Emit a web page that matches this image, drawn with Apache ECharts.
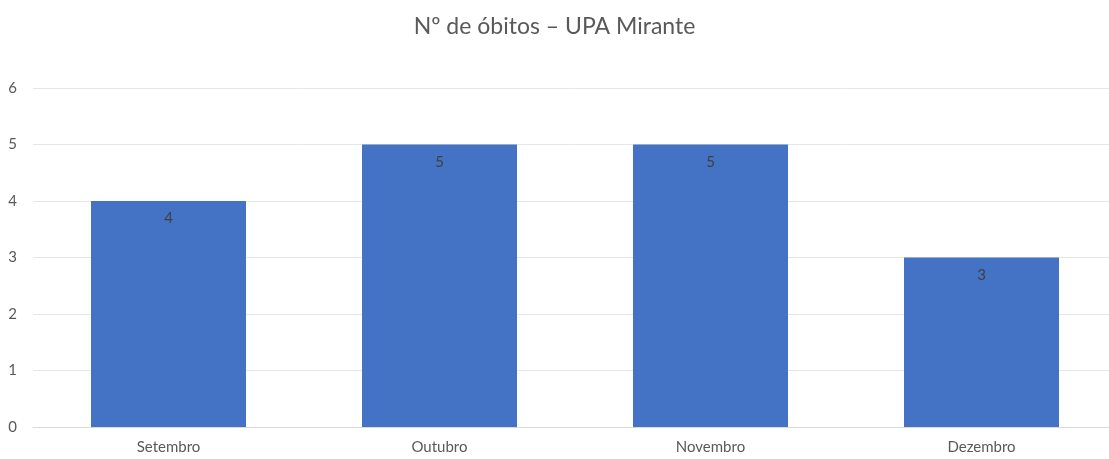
<!DOCTYPE html>
<html>
<head>
<meta charset="utf-8">
<script src="https://cdn.jsdelivr.net/npm/echarts@6/dist/echarts.min.js"></script>
<style>
    html, body { margin: 0; padding: 0; background: #fff; }
    #chart { width: 1109px; height: 459px; }
</style>
</head>
<body>
<div id="chart"></div>
<script>
const months = ['Setembro', 'Outubro', 'Novembro', 'Dezembro'];
const deaths = [4, 5, 5, 3];
const yTicks = [0, 1, 2, 3, 4, 5, 6];

const chart = echarts.init(document.getElementById('chart'));
chart.setOption({
    animation: false,
    textStyle: { fontFamily: 'Lato' },
    title: {
        text: 'Nº de óbitos – UPA Mirante',
        left: 'center',
        top: 10,
        textStyle: { color: '#595959', fontSize: 23, fontWeight: 'normal', fontFamily: 'Lato' }
    },
    grid: { left: 33, top: 88, width: 1084, height: 339, outerBoundsMode: 'none' },
    xAxis: {
        type: 'category',
        data: months,
        axisLine: { lineStyle: { color: '#d9d9d9' } },
        axisTick: { show: false },
        axisLabel: { color: '#595959', fontSize: 15, margin: 13 }
    },
    yAxis: {
        type: 'value',
        min: yTicks[0],
        max: yTicks[yTicks.length - 1],
        interval: 1,
        axisLine: { show: false },
        axisTick: { show: false },
        axisLabel: { color: '#595959', fontSize: 15, margin: 16 },
        splitLine: { lineStyle: { color: '#e6e6e6' } }
    },
    series: [
        {
            type: 'bar',
            data: deaths,
            barWidth: 155,
            itemStyle: { color: '#4472C4' },
            label: {
                show: true,
                position: 'insideTop',
                distance: 10,
                color: '#404040',
                fontSize: 15
            }
        }
    ]
});
</script>
</body>
</html>
